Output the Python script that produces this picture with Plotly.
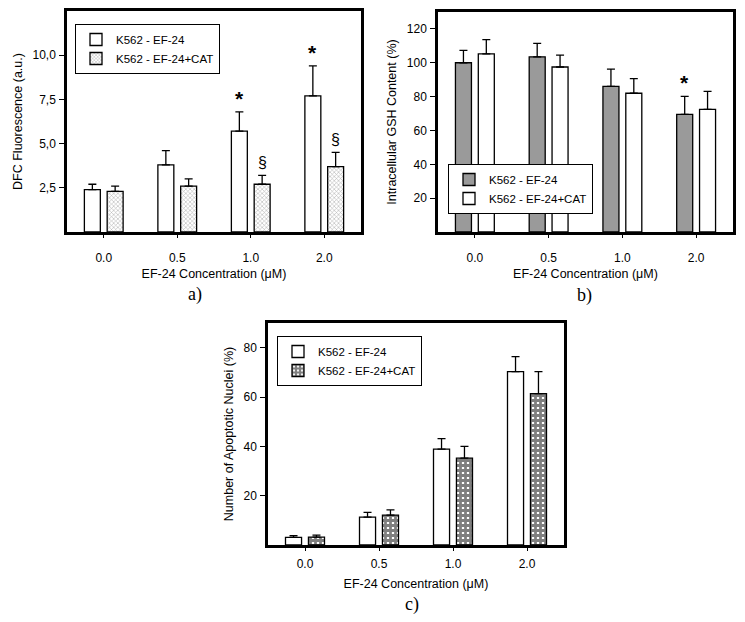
import plotly.graph_objects as go

# ---------------- data ----------------
conc = ["0.0", "0.5", "1.0", "2.0"]
series_names = ["K562 - EF-24", "K562 - EF-24+CAT"]

# panel a: DFC fluorescence
a_ef24 = [2.4, 3.8, 5.7, 7.7]
a_ef24_err = [0.3, 0.8, 1.1, 1.7]
a_cat = [2.3, 2.6, 2.7, 3.7]
a_cat_err = [0.3, 0.4, 0.5, 0.8]
a_ticks = [2.5, 5.0, 7.5, 10.0]
a_ticklabels = ["2,5", "5,0", "7,5", "10,0"]

# panel b: intracellular GSH
b_ef24 = [100.0, 103.5, 86.0, 69.5]
b_ef24_err = [7.3, 8.0, 10.2, 10.6]
b_cat = [105.3, 97.5, 82.0, 72.5]
b_cat_err = [8.4, 7.0, 8.6, 10.6]
b_ticks = [20, 40, 60, 80, 100, 120]

# panel c: apoptotic nuclei
c_ef24 = [3.1, 11.3, 38.9, 70.3]
c_ef24_err = [0.7, 1.9, 4.2, 6.1]
c_cat = [3.2, 12.1, 35.2, 61.4]
c_cat_err = [0.8, 2.1, 4.8, 8.9]
c_ticks = [20, 40, 60, 80]

# significance marks: (panel, series index, category index, symbol)
marks = [("a", 0, 2, "*"), ("a", 0, 3, "*"), ("a", 1, 2, "§"), ("a", 1, 3, "§"),
         ("b", 0, 3, "*")]

FONT = "Liberation Sans, Arial, sans-serif"
OFF = 8                      # page body margin
W, H = 745 - OFF, 622 - OFF
BARGAP, GROUPGAP = 0.38, 0.30
TICK_FS, TITLE_FS, LEG_FS = 12, 12.5, 11.5


def err(arr):
    return dict(type="data", array=arr, arrayminus=[0] * len(arr), symmetric=False,
                color="black", thickness=1.3, width=4)


fig = go.Figure()
line = dict(color="black", width=1.3)

# panel a
fig.add_bar(x=conc, y=a_ef24, name=series_names[0], error_y=err(a_ef24_err),
            marker=dict(color="white", line=line), xaxis="x", yaxis="y", legend="legend")
fig.add_bar(x=conc, y=a_cat, name=series_names[1], error_y=err(a_cat_err),
            marker=dict(color="white", line=line,
                        pattern=dict(shape="x", fgcolor="#666666", bgcolor="white",
                                     size=3, solidity=0.35)),
            xaxis="x", yaxis="y", legend="legend")
# panel b
fig.add_bar(x=conc, y=b_ef24, name=series_names[0], error_y=err(b_ef24_err),
            marker=dict(color="#9a9a9a", line=line), xaxis="x2", yaxis="y2", legend="legend2")
fig.add_bar(x=conc, y=b_cat, name=series_names[1], error_y=err(b_cat_err),
            marker=dict(color="white", line=line), xaxis="x2", yaxis="y2", legend="legend2")
# panel c
fig.add_bar(x=conc, y=c_ef24, name=series_names[0], error_y=err(c_ef24_err),
            marker=dict(color="white", line=line), xaxis="x3", yaxis="y3", legend="legend3")
fig.add_bar(x=conc, y=c_cat, name=series_names[1], error_y=err(c_cat_err),
            marker=dict(color="white", line=line,
                        pattern=dict(shape="+", fgcolor="black", bgcolor="white",
                                     size=5, solidity=0.8)),
            xaxis="x3", yaxis="y3", legend="legend3")


def px_x(p):
    return (p - OFF) / W


def px_y(p):
    return 1 - (p - OFF) / H


def xaxis(dom, anchor):
    return dict(domain=dom, anchor=anchor, type="category", range=[-0.5, 3.5],
                showline=True, linecolor="black", linewidth=2.5, mirror=True,
                ticks="outside", ticklen=3, tickcolor="black", tickwidth=1,
                ticklabelstandoff=10, showgrid=False, zeroline=False,
                tickfont=dict(family=FONT, size=TICK_FS, color="black"),
                title=dict(text="EF-24 Concentration (μM)", standoff=6,
                           font=dict(family=FONT, size=TITLE_FS, color="black")))


def yaxis(dom, anchor, rng, ticks, title, labels=None):
    d = dict(domain=dom, anchor=anchor, range=rng, tickmode="array", tickvals=ticks,
             showline=True, linecolor="black", linewidth=2.5, mirror=True,
             ticks="outside", ticklen=5, tickcolor="black", tickwidth=1,
             ticklabelstandoff=1, showgrid=False, zeroline=False,
             tickfont=dict(family=FONT, size=TICK_FS, color="black"),
             title=dict(text=title, standoff=8,
                        font=dict(family=FONT, size=TITLE_FS, color="black")))
    if labels is not None:
        d["ticktext"] = labels
    return d


ya = yaxis([px_y(232), px_y(11)], "x", [0, 12.5], a_ticks, "DFC Fluorescence (a.u.)", a_ticklabels)
yb = yaxis([px_y(232), px_y(12)], "x2", [0, 130], b_ticks, "Intracellular GSH Content (%)")
yc = yaxis([px_y(545), px_y(323)], "x3", [0, 90], c_ticks, "Number of Apoptotic Nuclei (%)")

xa = xaxis([px_x(67), px_x(361)], "y")
xb = xaxis([px_x(438), px_x(733)], "y2")
xc = xaxis([px_x(268), px_x(564)], "y3")
xc["ticklabelstandoff"] = 3
xc["title"]["standoff"] = 10

leg_common = dict(bgcolor="white", bordercolor="black", borderwidth=1, xanchor="left",
                  yanchor="top", font=dict(family=FONT, size=LEG_FS, color="black"),
                  tracegroupgap=0, itemwidth=30, traceorder="normal")

fig.update_layout(
    width=W, height=H, margin=dict(l=0, r=0, t=0, b=0),
    paper_bgcolor="white", plot_bgcolor="white",
    barmode="group", bargap=BARGAP, bargroupgap=GROUPGAP,
    xaxis=xa, yaxis=ya, xaxis2=xb, yaxis2=yb, xaxis3=xc, yaxis3=yc,
    legend=dict(x=px_x(75), y=px_y(24), **leg_common),
    legend2=dict(x=px_x(448), y=px_y(164), **leg_common),
    legend3=dict(x=px_x(277), y=px_y(336), **leg_common),
    showlegend=True,
)

# significance marks
data_map = {"a": ((a_ef24, a_ef24_err), (a_cat, a_cat_err), "x", "y"),
            "b": ((b_ef24, b_ef24_err), (b_cat, b_cat_err), "x2", "y2")}
offset = (1 - BARGAP) / 4
for panel, s, i, sym in marks:
    ser = data_map[panel][s]
    xr, yr = data_map[panel][2], data_map[panel][3]
    top = ser[0][i] + ser[1][i]
    xpos = i + (-offset if s == 0 else offset)
    if sym == "*":
        fnt = dict(family=FONT, size=21, color="black")
        ysh = 0
    else:
        fnt = dict(family=FONT, size=16, color="black")
        ysh = 2
    fig.add_annotation(x=xpos, y=top, xref=xr, yref=yr, text=("<b>*</b>" if sym == "*" else sym),
                       showarrow=False, yanchor="bottom", yshift=ysh, font=fnt)

# panel labels
for lbl, x, y in [("a)", 195, 294), ("b)", 584, 295), ("c)", 412, 604)]:
    fig.add_annotation(x=px_x(x), y=px_y(y), xref="paper", yref="paper", text=lbl,
                       showarrow=False, xanchor="center", yanchor="middle",
                       font=dict(family="Liberation Serif, serif", size=18, color="black"))

fig.write_html("out.html")
